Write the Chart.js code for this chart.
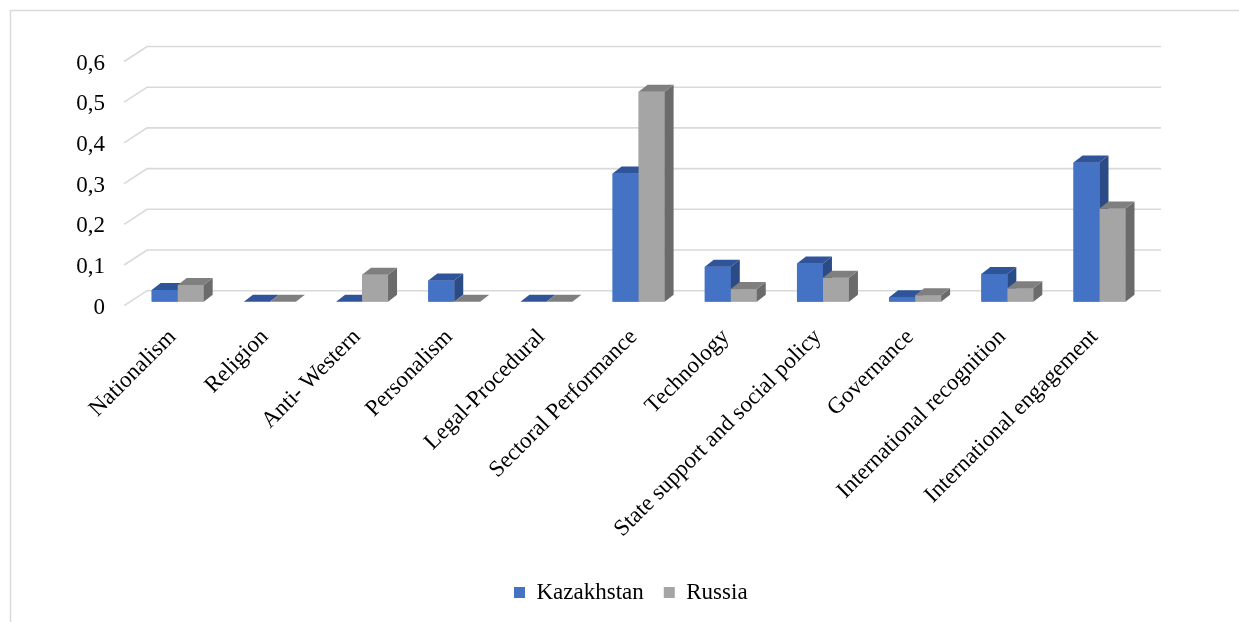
<!DOCTYPE html>
<html>
<head>
<meta charset="utf-8">
<script src="https://cdn.jsdelivr.net/npm/chart.js@4.4.1/dist/chart.umd.min.js"></script>
<style>
  body { margin: 0; background: #fff; overflow: hidden; }
</style>
</head>
<body>
<canvas id="framingChart" width="1239" height="622"></canvas>
<script>
const categories = ['Nationalism', 'Religion', 'Anti- Western', 'Personalism', 'Legal-Procedural',
  'Sectoral Performance', 'Technology', 'State support and social policy', 'Governance',
  'International recognition', 'International engagement'];
const kazakhstan = [0.029, 0, 0, 0.052, 0, 0.315, 0.086, 0.094, 0.011, 0.068, 0.342];
const russia = [0.041, 0, 0.066, 0, 0, 0.516, 0.031, 0.059, 0.016, 0.033, 0.229];
const yTicks = [0, 0.1, 0.2, 0.3, 0.4, 0.5, 0.6];

// 3D look offsets (px)
const DEPTH_X = 9, DEPTH_Y = -7;     // bar top/side depth
const WALL_X = 15.5, WALL_Y = -11;   // back wall gridlines
const FLOOR_X = -7.5, FLOOR_Y = 4;   // front edge of the floor

const faceColors = [
  { front: '#4472C4', top: '#30549A', side: '#2B4B86' },
  { front: '#A5A5A5', top: '#7F7F7F', side: '#6B6B6B' }
];

const fontFamily = '"Liberation Serif", "Times New Roman", serif';

// light frame round the chart (only left and top are in view)
const framePlugin = {
  id: 'frame',
  beforeDraw(chart) {
    const ctx = chart.ctx;
    ctx.save();
    ctx.strokeStyle = '#d9d9d9';
    ctx.lineWidth = 1.5;
    ctx.beginPath();
    ctx.moveTo(10.5, chart.height);
    ctx.lineTo(10.5, 10.5);
    ctx.lineTo(chart.width, 10.5);
    ctx.stroke();
    ctx.restore();
  }
};

// back wall gridlines with the slanted floor edge, plus the value labels on the front edge
const wallGridPlugin = {
  id: 'wallGrid',
  beforeDatasetsDraw(chart) {
    const { ctx, chartArea, scales } = chart;
    ctx.save();
    ctx.strokeStyle = '#d9d9d9';
    ctx.lineWidth = 1.6;
    yTicks.forEach(v => {
      const py = scales.y.getPixelForValue(v);
      ctx.beginPath();
      ctx.moveTo(chartArea.left + FLOOR_X, py + FLOOR_Y);
      ctx.lineTo(chartArea.left + WALL_X, py + WALL_Y);
      ctx.lineTo(chartArea.right + WALL_X, py + WALL_Y);
      ctx.stroke();
    });
    ctx.fillStyle = '#000';
    ctx.font = '23px ' + fontFamily;
    ctx.textAlign = 'right';
    ctx.textBaseline = 'middle';
    yTicks.forEach(v => {
      const py = scales.y.getPixelForValue(v);
      const txt = v === 0 ? '0' : v.toFixed(1).replace('.', ',');
      ctx.fillText(txt, chartArea.left - 26.6, py + 6);
    });
    ctx.restore();
  }
};

function fillPoly(ctx, pts, color) {
  ctx.fillStyle = color;
  ctx.beginPath();
  ctx.moveTo(pts[0][0], pts[0][1]);
  for (let i = 1; i < pts.length; i++) ctx.lineTo(pts[i][0], pts[i][1]);
  ctx.closePath();
  ctx.fill();
}

// top and side faces, drawn per category so the grey bar covers the blue side
const barDepthPlugin = {
  id: 'barDepth',
  afterDatasetsDraw(chart) {
    const ctx = chart.ctx;
    ctx.save();
    categories.forEach((c, i) => {
      chart.data.datasets.forEach((ds, d) => {
        const el = chart.getDatasetMeta(d).data[i];
        const { x, y, base, width } = el.getProps(['x', 'y', 'base', 'width'], true);
        const l = x - width / 2, r = x + width / 2;
        const col = faceColors[d];
        fillPoly(ctx, [[l, y], [r, y], [r, base], [l, base]], col.front);
        fillPoly(ctx, [[r, y], [r + DEPTH_X, y + DEPTH_Y], [r + DEPTH_X, base + DEPTH_Y], [r, base]], col.side);
        fillPoly(ctx, [[l, y], [r, y], [r + DEPTH_X, y + DEPTH_Y], [l + DEPTH_X, y + DEPTH_Y]], col.top);
      });
    });
    ctx.restore();
  }
};

new Chart(document.getElementById('framingChart'), {
  type: 'bar',
  data: {
    labels: categories,
    datasets: [
      { label: 'Kazakhstan', data: kazakhstan, backgroundColor: '#4472C4', borderWidth: 0,
        categoryPercentage: 0.564, barPercentage: 1.0 },
      { label: 'Russia', data: russia, backgroundColor: '#A5A5A5', borderWidth: 0,
        categoryPercentage: 0.564, barPercentage: 1.0 }
    ]
  },
  options: {
    responsive: false,
    animation: false,
    layout: { padding: { left: 116, right: 93.4, top: 57.5, bottom: 8 } },
    plugins: {
      legend: {
        position: 'bottom',
        labels: {
          boxWidth: 11,
          boxHeight: 11,
          padding: 20,
          color: '#000',
          font: { family: fontFamily, size: 23 }
        }
      },
      tooltip: { enabled: false }
    },
    scales: {
      x: {
        grid: { display: false },
        border: { display: false },
        ticks: {
          autoSkip: false,
          minRotation: 45,
          maxRotation: 45,
          padding: 14,
          labelOffset: -5,
          color: '#000',
          font: { family: fontFamily, size: 23 }
        },
        afterFit(axis) { axis.height = 259.3; }
      },
      y: {
        min: 0,
        max: 0.6,
        grid: { display: false, drawTicks: false },
        border: { display: false },
        ticks: { display: false, stepSize: 0.1 },
        afterFit(axis) { axis.width = 15.6; }
      }
    }
  },
  plugins: [framePlugin, wallGridPlugin, barDepthPlugin]
});
</script>
</body>
</html>
